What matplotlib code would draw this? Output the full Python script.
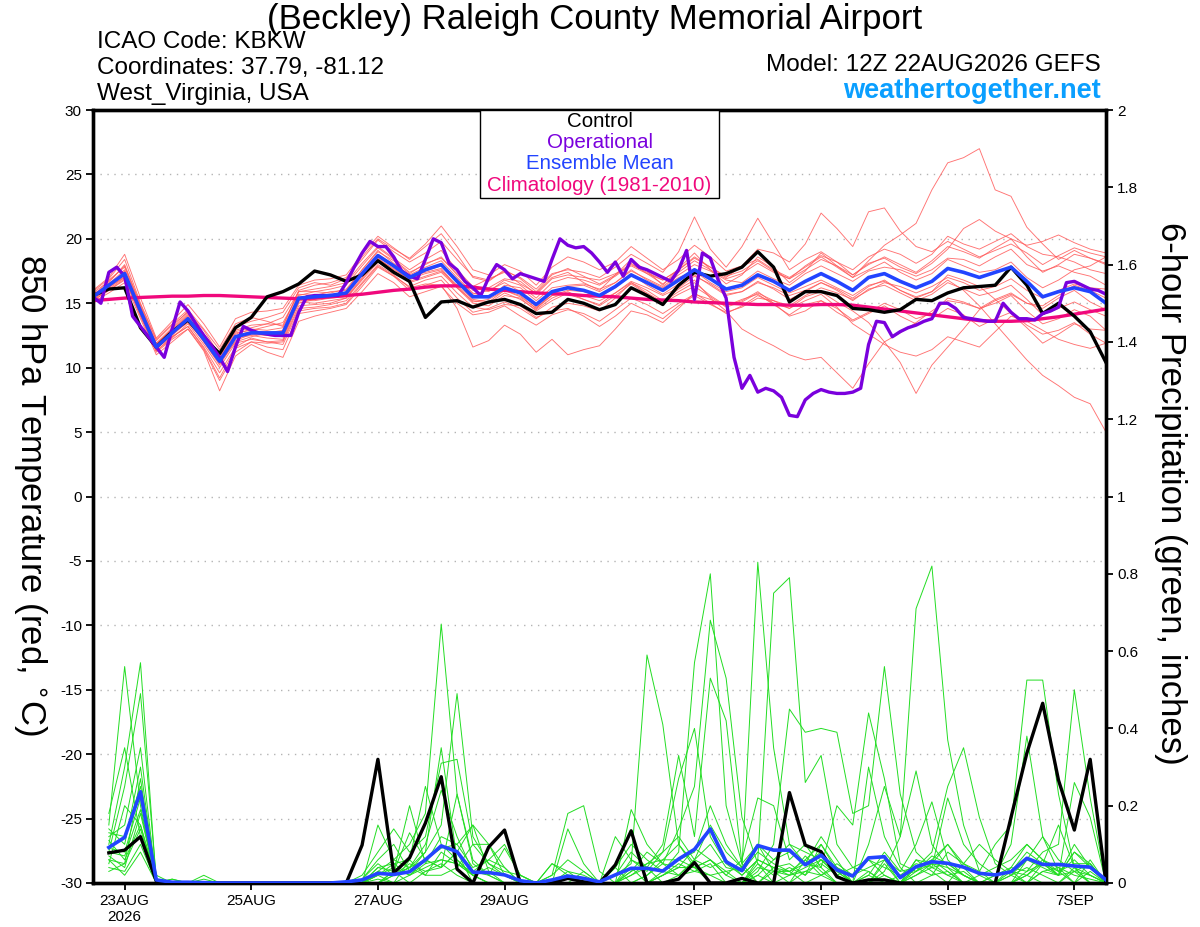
import numpy as np
import matplotlib
matplotlib.use('Agg')
import matplotlib.pyplot as plt
from matplotlib.patches import Rectangle
from matplotlib.ticker import FuncFormatter

plt.rcParams['font.family'] = ['Liberation Sans', 'DejaVu Sans']
plt.rcParams['axes.unicode_minus'] = False

# --- labels ---
tick_hours = [12, 60, 108, 156, 228, 276, 324, 372]
tick_labels = ['23AUG\n2026', '25AUG', '27AUG', '29AUG', '1SEP', '3SEP', '5SEP', '7SEP']

# --- 850 hPa temperature (deg C), 6-hourly from 12Z 22AUG ---
control_t = [15.6, 16.1, 16.2, 13.1, 11.6, 12.8, 13.7, 12.3, 11.1, 13.1,
             13.9, 15.5, 15.9, 16.5, 17.5, 17.2, 16.7, 17.2, 18.3, 17.4,
             16.7, 13.9, 15.1, 15.2, 14.7, 15.1, 15.3, 14.9, 14.2, 14.3,
             15.3, 15.0, 14.5, 14.9, 16.2, 15.6, 14.9, 16.4, 17.4, 17.1,
             17.3, 17.8, 19.0, 17.8, 15.1, 15.9, 15.9, 15.6, 14.6, 14.5,
             14.3, 14.5, 15.3, 15.2, 15.8, 16.2, 16.3, 16.4, 17.8, 16.4,
             14.2, 15.0, 14.0, 12.8, 10.4]

mean_t = [15.5, 16.4, 17.3, 14.4, 11.6, 12.7, 13.8, 12.2, 10.5, 12.4,
          12.7, 12.7, 12.7, 15.4, 15.5, 15.6, 15.8, 17.3, 18.7, 17.9,
          17.0, 17.6, 18.0, 16.7, 15.5, 15.5, 16.2, 15.8, 14.9, 15.9,
          16.2, 16.0, 15.6, 16.3, 17.2, 16.6, 16.0, 16.8, 17.6, 16.9,
          16.1, 16.4, 17.2, 16.7, 16.0, 16.7, 17.3, 16.7, 16.0, 17.0,
          17.3, 16.7, 16.2, 16.7, 17.7, 17.4, 17.0, 17.4, 17.8, 16.7,
          15.5, 15.9, 16.2, 15.9, 15.0]

clim_t = [15.2, 15.3, 15.4, 15.45, 15.5, 15.55, 15.55, 15.6, 15.6, 15.55,
          15.5, 15.45, 15.4, 15.35, 15.4, 15.5, 15.6, 15.7, 15.85, 16.0,
          16.1, 16.25, 16.35, 16.35, 16.25, 16.1, 16.0, 15.9, 15.8, 15.75,
          15.7, 15.6, 15.55, 15.5, 15.4, 15.3, 15.25, 15.2, 15.1, 15.05,
          15.0, 14.95, 14.9, 14.9, 14.85, 14.85, 14.9, 14.9, 14.85, 14.7,
          14.55, 14.4, 14.25, 14.1, 13.95, 13.8, 13.65, 13.6, 13.6, 13.65,
          13.8, 13.95, 14.15, 14.35, 14.55]

# operational run, 3-hourly
oper_t = [15.5, 15.0, 17.4, 17.8, 17.1, 14.0, 13.2, 12.4, 11.6, 10.8,
          13.0, 15.1, 14.4, 13.4, 12.5, 11.7, 10.8, 9.7, 11.6, 13.2,
          12.9, 12.7, 12.6, 12.5, 12.5, 12.5, 14.3, 15.5, 15.6, 15.6,
          15.6, 15.6, 16.6, 17.8, 18.9, 19.8, 19.4, 19.4, 18.6, 17.5,
          17.1, 16.9, 18.4, 20.0, 19.7, 18.1, 17.6, 16.7, 16.2, 15.6,
          17.0, 18.0, 17.6, 16.9, 17.3, 17.1, 16.9, 16.7, 18.4, 20.0,
          19.5, 19.3, 19.4, 18.9, 18.2, 17.4, 18.2, 17.1, 18.4, 17.8,
          17.6, 17.3, 17.0, 16.7, 17.6, 19.1, 15.3, 18.9, 18.5, 16.8,
          15.4, 10.8, 8.4, 9.4, 8.1, 8.4, 8.2, 7.7, 6.3, 6.2,
          7.5, 8.0, 8.3, 8.1, 8.0, 8.0, 8.1, 8.4, 11.8, 13.6,
          13.5, 12.4, 12.8, 13.1, 13.3, 13.6, 13.8, 15.0, 15.0, 14.6,
          13.9, 13.8, 13.7, 13.6, 13.6, 15.0, 14.3, 13.8, 13.8, 13.7,
          14.2, 14.4, 14.7, 16.6, 16.7, 16.4, 16.1, 16.0, 15.7]

# ensemble members
t01 = [15.8, 16.7, 17.9, 14.8, 11.9, 13.1, 14.4, 12.6, 10.9, 12.8,
       13.1, 13.4, 13.9, 15.9, 16.1, 16.3, 16.6, 18.1, 19.4, 18.5,
       17.6, 18.4, 19.1, 17.6, 16.3, 16.9, 17.4, 16.5, 15.8, 17.0,
       17.4, 16.6, 16.0, 17.2, 18.4, 17.5, 16.4, 17.7, 18.9, 17.6,
       16.5, 17.2, 18.6, 17.8, 16.6, 17.5, 18.9, 17.9, 17.0, 18.3,
       19.5, 20.3, 21.2, 23.8, 25.9, 26.3, 27.0, 23.8, 23.3, 20.9,
       19.6, 18.4, 19.1, 18.5, 18.1]
t02 = [15.2, 16.0, 16.9, 14.0, 11.3, 12.3, 13.4, 11.8, 10.0, 11.9,
       12.2, 12.0, 12.1, 14.8, 14.9, 15.0, 15.4, 16.8, 18.2, 17.4,
       16.6, 17.0, 17.4, 16.2, 15.0, 14.8, 15.6, 15.4, 14.4, 15.2,
       15.8, 15.6, 15.2, 15.8, 16.7, 16.2, 15.6, 16.2, 17.1, 16.5,
       15.7, 15.9, 16.6, 16.2, 15.6, 16.0, 16.6, 16.1, 15.4, 16.3,
       16.8, 16.0, 15.5, 15.9, 16.8, 16.0, 14.8, 13.4, 12.0, 10.6,
       9.4, 8.6, 7.7, 7.2, 5.0]
t03 = [15.6, 16.3, 17.0, 14.2, 11.5, 12.4, 13.2, 11.6, 9.6, 11.6,
       12.3, 12.0, 11.8, 14.4, 14.6, 14.7, 15.0, 16.5, 17.9, 17.1,
       16.0, 16.4, 16.8, 15.4, 14.3, 14.6, 15.1, 14.6, 13.8, 14.7,
       15.0, 14.8, 14.4, 15.4, 16.6, 15.8, 15.1, 15.9, 16.6, 15.6,
       14.8, 15.2, 15.9, 15.0, 14.6, 15.5, 15.9, 15.1, 14.4, 13.5,
       12.0, 10.4, 8.0, 10.2, 11.6, 13.0, 14.5, 15.2, 15.7, 15.0,
       14.6, 15.4, 16.0, 15.1, 14.5]
t04 = [15.9, 16.9, 18.4, 15.0, 12.2, 13.4, 14.5, 13.0, 11.4, 13.4,
       13.9, 13.6, 13.2, 16.0, 16.4, 16.6, 17.0, 18.4, 19.9, 19.0,
       18.2, 18.9, 19.8, 18.4, 17.1, 16.8, 17.5, 17.0, 16.1, 17.3,
       17.6, 17.4, 17.0, 17.8, 18.8, 18.1, 17.4, 19.0, 21.7, 19.2,
       17.8, 19.4, 21.6, 19.6, 17.6, 18.4, 19.0, 18.2, 17.2, 18.0,
       18.6, 18.0, 17.4, 18.3, 19.4, 19.0, 18.5, 19.3, 20.0, 18.6,
       17.4, 18.0, 18.8, 18.5, 18.0]
t05 = [15.3, 16.1, 17.0, 14.0, 11.2, 12.2, 13.0, 11.4, 9.0, 11.2,
       12.0, 11.9, 12.0, 14.6, 14.7, 14.9, 15.2, 16.6, 18.0, 17.2,
       16.2, 16.5, 16.4, 14.6, 11.6, 12.1, 13.3, 12.6, 11.2, 12.2,
       11.0, 11.4, 11.7, 13.0, 14.4, 14.1, 13.5, 14.6, 15.8, 15.0,
       14.2, 14.8, 15.6, 15.0, 14.0, 14.4, 15.2, 14.6, 13.7, 14.3,
       15.0, 14.5, 13.8, 14.2, 15.4, 15.1, 14.6, 15.0, 15.6, 14.4,
       13.4, 13.8, 14.5, 14.0, 12.9]
t06 = [15.4, 16.5, 17.6, 14.6, 11.9, 12.9, 14.1, 12.5, 10.7, 12.6,
       13.0, 12.9, 13.1, 15.6, 15.9, 15.8, 16.1, 17.6, 19.0, 18.3,
       17.3, 18.1, 18.5, 17.3, 16.2, 15.9, 16.8, 16.4, 15.4, 16.6,
       17.0, 16.8, 16.4, 17.1, 18.0, 17.4, 16.8, 17.6, 18.6, 17.8,
       17.0, 17.9, 19.2, 18.9, 18.2, 19.6, 22.0, 20.8, 19.4, 22.1,
       22.4, 20.6, 19.4, 19.0, 19.8, 19.2, 18.6, 19.1, 19.6, 18.9,
       18.0, 18.7, 19.3, 18.9, 18.6]
t07 = [15.7, 16.4, 17.2, 14.5, 11.7, 12.8, 13.9, 12.0, 10.2, 12.1,
       12.6, 12.5, 12.4, 15.0, 15.3, 15.5, 15.6, 17.2, 18.5, 17.6,
       16.9, 17.3, 17.6, 16.2, 15.2, 15.0, 15.8, 15.3, 14.5, 15.4,
       15.9, 15.3, 14.9, 15.8, 16.6, 16.0, 15.2, 16.1, 16.8, 15.4,
       14.4, 13.0, 12.3, 11.7, 11.0, 10.6, 10.8, 9.6, 8.4, 10.3,
       12.0, 12.7, 13.5, 14.4, 15.2, 15.0, 14.6, 15.3, 15.8, 15.0,
       14.8, 15.6, 16.4, 16.0, 15.4]
t08 = [15.5, 16.3, 17.5, 14.6, 11.8, 12.9, 14.0, 12.4, 10.8, 12.7,
       12.9, 13.2, 13.5, 15.7, 15.6, 15.9, 16.0, 17.6, 19.1, 18.1,
       17.2, 17.8, 18.3, 17.0, 15.8, 15.4, 16.4, 16.2, 15.2, 16.2,
       16.4, 16.5, 16.1, 16.6, 17.5, 16.9, 16.3, 17.2, 18.0, 17.5,
       16.8, 16.6, 17.5, 16.9, 16.4, 17.3, 17.9, 17.3, 16.7, 17.5,
       17.8, 17.6, 17.1, 17.6, 18.5, 18.4, 17.9, 18.6, 19.2, 18.0,
       17.5, 17.9, 17.4, 17.1, 16.4]
t09 = [15.1, 15.8, 16.6, 13.8, 11.0, 12.0, 13.0, 11.3, 8.2, 10.9,
       11.8, 11.2, 10.8, 13.6, 14.0, 14.3, 14.6, 15.9, 17.3, 16.6,
       15.5, 15.9, 16.3, 15.0, 14.1, 14.3, 14.8, 14.0, 13.3, 14.1,
       14.5, 14.2, 13.6, 14.5, 15.4, 14.9, 14.2, 15.0, 15.7, 15.3,
       14.8, 15.3, 15.7, 14.9, 14.1, 14.9, 15.2, 14.3, 13.6, 14.2,
       14.8, 14.0, 13.4, 13.8, 14.6, 14.1, 13.2, 13.8, 14.3, 13.3,
       12.6, 12.9, 13.5, 12.6, 11.9]
t10 = [16.0, 17.0, 18.8, 15.4, 12.3, 13.6, 14.9, 13.4, 11.6, 13.8,
       14.3, 14.4, 14.6, 16.4, 16.8, 16.9, 17.2, 18.8, 20.2, 19.3,
       18.4, 19.4, 20.4, 18.8, 17.0, 16.7, 17.6, 16.9, 15.9, 17.2,
       17.7, 17.1, 16.5, 17.2, 18.1, 17.3, 16.5, 17.4, 18.3, 17.6,
       16.9, 17.3, 18.1, 17.4, 16.9, 17.6, 18.4, 17.9, 17.2, 18.1,
       18.5, 17.8, 17.3, 18.1, 19.2, 20.8, 21.5, 20.6, 20.0, 19.5,
       19.8, 20.3, 19.7, 19.2, 18.9]
t11 = [15.6, 16.2, 17.1, 14.3, 11.5, 12.6, 13.5, 12.1, 10.4, 12.0,
       12.4, 12.7, 12.9, 15.2, 15.2, 15.4, 15.5, 17.0, 18.4, 17.7,
       16.8, 17.5, 17.9, 16.9, 15.7, 16.0, 16.6, 15.9, 14.7, 15.6,
       16.0, 15.9, 15.5, 16.2, 17.3, 16.4, 15.7, 16.5, 17.2, 16.4,
       15.6, 15.9, 16.7, 16.1, 15.3, 15.9, 16.6, 16.0, 15.2, 16.1,
       16.4, 15.8, 15.2, 15.7, 16.6, 16.1, 15.6, 15.9, 16.4, 15.3,
       14.1, 14.6, 15.1, 14.5, 14.0]
t12 = [15.4, 16.6, 18.0, 14.9, 12.1, 13.3, 14.3, 12.9, 11.0, 13.2,
       13.6, 13.9, 14.3, 16.2, 16.6, 16.4, 16.9, 18.6, 20.0, 19.2,
       18.5, 19.6, 21.0, 19.4, 17.6, 17.2, 18.0, 17.5, 16.4, 17.8,
       18.6, 18.2, 17.6, 18.2, 19.4, 18.5, 17.6, 18.4, 19.5, 18.6,
       17.5, 17.9, 18.4, 17.6, 17.0, 17.8, 18.6, 17.8, 17.0, 17.6,
       18.2, 17.4, 16.8, 17.3, 18.4, 17.9, 17.4, 17.6, 18.2, 17.0,
       16.2, 16.8, 17.6, 17.9, 18.6]
t13 = [15.3, 16.2, 17.4, 14.4, 11.6, 12.5, 13.6, 12.0, 10.3, 12.3,
       12.5, 12.3, 12.2, 15.1, 15.0, 15.2, 15.4, 16.9, 18.4, 17.5,
       16.7, 17.1, 17.5, 16.4, 15.3, 15.1, 16.0, 15.6, 14.6, 15.8,
       16.3, 16.4, 15.9, 16.6, 17.6, 16.8, 16.2, 17.0, 17.5, 16.6,
       15.9, 16.2, 17.0, 16.4, 15.8, 16.3, 16.8, 16.2, 15.6, 16.4,
       16.7, 16.0, 15.4, 15.9, 17.2, 16.8, 16.3, 15.3, 14.2, 13.1,
       11.9, 12.6, 13.4, 13.0, 12.9]
t14 = [15.7, 16.5, 17.2, 14.2, 11.4, 12.8, 13.7, 12.2, 10.6, 12.5,
       12.8, 12.6, 12.4, 15.3, 15.4, 15.6, 15.7, 17.4, 18.8, 18.0,
       17.1, 17.4, 17.7, 16.3, 15.1, 15.3, 16.0, 15.5, 14.6, 15.6,
       15.7, 15.3, 14.8, 15.6, 16.5, 15.7, 15.0, 15.7, 16.3, 15.5,
       14.7, 15.1, 15.8, 15.2, 14.6, 15.2, 15.7, 14.7, 13.4, 12.6,
       11.8, 11.2, 10.9, 11.4, 12.4, 12.0, 11.6, 12.8, 14.0, 13.6,
       12.9, 12.2, 11.8, 11.5, 11.9]
t15 = [15.5, 16.8, 17.8, 14.7, 11.8, 13.0, 14.2, 12.6, 10.9, 12.9,
       13.3, 13.4, 13.3, 15.9, 15.9, 16.1, 16.4, 17.9, 19.3, 18.4,
       17.4, 18.0, 18.6, 17.2, 16.0, 16.2, 16.9, 16.7, 15.7, 16.9,
       17.2, 17.0, 16.8, 17.3, 17.9, 17.3, 16.8, 17.6, 18.5, 17.8,
       17.1, 17.5, 18.3, 17.5, 16.9, 17.9, 18.7, 18.2, 17.6, 18.6,
       19.2, 18.8, 18.1, 18.8, 20.2, 19.6, 19.2, 19.8, 20.4, 19.4,
       18.8, 18.6, 18.2, 17.6, 17.3]
t16 = [15.2, 16.0, 16.8, 14.1, 11.3, 12.4, 13.2, 11.5, 9.2, 11.5,
       12.0, 11.6, 11.4, 14.2, 14.4, 14.6, 14.9, 16.3, 17.8, 17.1,
       16.3, 16.8, 17.1, 15.8, 14.7, 14.5, 14.9, 14.8, 13.9, 14.4,
       14.6, 14.0, 13.2, 14.0, 15.0, 14.4, 13.8, 14.8, 15.6, 14.9,
       14.3, 14.7, 15.4, 15.2, 14.8, 15.6, 16.2, 15.8, 15.3, 16.0,
       16.6, 16.3, 15.8, 16.3, 17.0, 16.6, 16.0, 16.3, 16.9, 16.0,
       15.4, 16.0, 16.5, 16.2, 16.1]

# --- 6-hour precipitation (inches), from 18Z 22AUG ---
control_p = [0.078, 0.085, 0.12, 0.005, 0, 0, 0, 0,
             0, 0, 0, 0, 0, 0, 0, 0,
             0.098, 0.32, 0.026, 0.065, 0.155, 0.275, 0.036, 0,
             0.093, 0.137, 0, 0, 0, 0.012, 0.003, 0,
             0.047, 0.135, 0, 0, 0.01, 0.053, 0, 0,
             0.012, 0, 0, 0.234, 0.098, 0.081, 0.016, 0,
             0.008, 0.008, 0, 0, 0, 0, 0, 0,
             0, 0.17, 0.336, 0.465, 0.266, 0.137, 0.32, 0]

mean_p = [0.092, 0.118, 0.236, 0.008, 0.002, 0.002, 0.001, 0,
          0, 0, 0, 0, 0, 0, 0, 0.003,
          0.008, 0.025, 0.022, 0.029, 0.06, 0.096, 0.081, 0.028,
          0.027, 0.021, 0.006, 0, 0.008, 0.018, 0.012, 0.003,
          0.021, 0.038, 0.038, 0.031, 0.062, 0.087, 0.14, 0.055,
          0.032, 0.097, 0.085, 0.085, 0.047, 0.072, 0.034, 0.018,
          0.065, 0.068, 0.014, 0.042, 0.055, 0.051, 0.041, 0.025,
          0.021, 0.029, 0.064, 0.048, 0.048, 0.044, 0.041, 0.008]

p01 = [0.15, 0.56, 0.20, 0, 0.01, 0, 0, 0,
       0, 0, 0, 0, 0, 0, 0, 0,
       0, 0.03, 0.06, 0.10, 0.18, 0.67, 0.23, 0.05,
       0.02, 0, 0, 0, 0.02, 0.06, 0.03, 0,
       0, 0.02, 0.05, 0.08, 0.12, 0.06, 0.15, 0.08,
       0.04, 0.83, 0.35, 0.10, 0.05, 0.12, 0.06, 0,
       0.02, 0.08, 0.03, 0.10, 0.21, 0.06, 0.02, 0,
       0, 0.04, 0.10, 0.06, 0.02, 0.08, 0.05, 0]
p02 = [0.10, 0.30, 0.57, 0, 0, 0, 0, 0,
       0, 0, 0, 0, 0, 0, 0, 0,
       0.01, 0.05, 0.02, 0.04, 0.08, 0.15, 0.49, 0.12,
       0.05, 0.02, 0, 0, 0, 0.02, 0, 0,
       0.04, 0.10, 0.06, 0.03, 0.08, 0.57, 0.80, 0.20,
       0.05, 0.10, 0.03, 0, 0.06, 0.10, 0.04, 0,
       0, 0.05, 0, 0.02, 0.05, 0.10, 0.04, 0,
       0, 0, 0.06, 0.12, 0.03, 0, 0.06, 0]
p03 = [0.18, 0.35, 0.12, 0, 0, 0, 0, 0,
       0, 0, 0, 0, 0, 0, 0, 0,
       0, 0.02, 0.05, 0.06, 0.25, 0.10, 0.06, 0.02,
       0, 0, 0, 0, 0, 0.14, 0.05, 0,
       0.02, 0.05, 0.59, 0.41, 0.10, 0.04, 0.06, 0.03,
       0, 0.06, 0.75, 0.79, 0.26, 0.33, 0.10, 0.04,
       0.03, 0, 0, 0.06, 0.03, 0, 0.05, 0.02,
       0, 0.03, 0, 0.05, 0.15, 0.04, 0, 0]
p04 = [0.08, 0.25, 0.49, 0.01, 0, 0, 0.02, 0,
       0, 0, 0, 0, 0, 0, 0, 0,
       0, 0, 0.03, 0.13, 0.06, 0.04, 0.08, 0.15,
       0.10, 0.04, 0, 0, 0, 0, 0, 0,
       0, 0.03, 0.08, 0.05, 0.14, 0.25, 0.68, 0.53,
       0.17, 0.05, 0, 0.02, 0.04, 0.06, 0.02, 0,
       0.10, 0.25, 0.12, 0.71, 0.82, 0.37, 0.15, 0.03,
       0, 0, 0.02, 0.05, 0.03, 0.06, 0.02, 0]
p05 = [0.12, 0.15, 0.35, 0, 0.01, 0, 0.01, 0,
       0, 0, 0, 0, 0, 0, 0, 0,
       0.02, 0.08, 0.14, 0.08, 0.12, 0.31, 0.32, 0.10,
       0.05, 0.03, 0.02, 0, 0, 0, 0.03, 0,
       0, 0, 0.02, 0.06, 0.10, 0.05, 0, 0,
       0, 0.03, 0.10, 0.45, 0.39, 0.40, 0.39, 0.18,
       0.20, 0.56, 0.23, 0.08, 0.04, 0.05, 0.02, 0,
       0.02, 0.03, 0.08, 0.05, 0.02, 0.10, 0.04, 0]
p06 = [0.06, 0.05, 0.27, 0, 0, 0, 0, 0,
       0, 0, 0, 0, 0, 0, 0, 0,
       0, 0.04, 0.03, 0.20, 0.05, 0.06, 0.05, 0.03,
       0.02, 0, 0, 0, 0.05, 0.03, 0, 0,
       0.02, 0.08, 0.04, 0.10, 0.33, 0.12, 0.53, 0.42,
       0.05, 0, 0.04, 0.03, 0.05, 0.08, 0.03, 0,
       0, 0.02, 0, 0.03, 0.06, 0.10, 0.05, 0.03,
       0.10, 0.15, 0.525, 0.525, 0.23, 0.04, 0.02, 0]
p07 = [0.05, 0.20, 0.15, 0.01, 0, 0, 0, 0,
       0, 0, 0, 0, 0, 0, 0, 0,
       0, 0.02, 0.04, 0.02, 0.06, 0.09, 0.10, 0.15,
       0.03, 0, 0, 0, 0, 0, 0, 0,
       0, 0, 0, 0.02, 0.04, 0.09, 0.06, 0.02,
       0.06, 0.22, 0.20, 0.06, 0.10, 0.04, 0.20, 0.15,
       0.44, 0.27, 0.05, 0.03, 0.07, 0.05, 0.02, 0,
       0, 0, 0.03, 0.08, 0.10, 0.50, 0.22, 0]
p08 = [0.09, 0.08, 0.22, 0, 0, 0, 0, 0,
       0, 0, 0, 0, 0, 0, 0, 0,
       0.01, 0.06, 0.10, 0.03, 0.08, 0.35, 0.06, 0.02,
       0, 0, 0, 0, 0.02, 0.18, 0.20, 0.03,
       0, 0.19, 0.10, 0.05, 0.02, 0.06, 0.10, 0.04,
       0.03, 0.08, 0.05, 0.03, 0, 0.02, 0.05, 0.02,
       0.04, 0.06, 0.03, 0.04, 0.08, 0.25, 0.35, 0.17,
       0.05, 0.02, 0, 0.03, 0.04, 0.02, 0.01, 0]
p09 = [0.14, 0.10, 0.30, 0, 0, 0, 0, 0,
       0, 0, 0, 0, 0, 0, 0, 0,
       0, 0.15, 0.06, 0.04, 0.10, 0.24, 0.12, 0.03,
       0.06, 0.10, 0.02, 0, 0, 0, 0, 0,
       0.12, 0.06, 0.03, 0.08, 0.27, 0.40, 0.12, 0.05,
       0.02, 0.06, 0.04, 0.02, 0.03, 0.05, 0.02, 0,
       0, 0.03, 0.12, 0.29, 0.10, 0.04, 0.02, 0,
       0, 0, 0, 0.03, 0.02, 0.26, 0.17, 0]
p10 = [0.07, 0.04, 0.18, 0, 0, 0, 0, 0,
       0, 0, 0, 0, 0, 0, 0, 0,
       0, 0, 0.02, 0.05, 0.03, 0.04, 0.23, 0.06,
       0.02, 0.09, 0.02, 0, 0.05, 0.02, 0, 0,
       0, 0.02, 0.04, 0.03, 0.06, 0.08, 0.20, 0.10,
       0.04, 0.10, 0.06, 0.10, 0.08, 0.06, 0.04, 0.02,
       0.06, 0.04, 0.02, 0.05, 0.04, 0.22, 0.10, 0.05,
       0.02, 0.10, 0.38, 0.12, 0.06, 0.03, 0.05, 0]
p11 = [0.04, 0.03, 0.10, 0, 0, 0, 0, 0,
       0, 0, 0, 0, 0, 0, 0, 0,
       0, 0.01, 0, 0.02, 0.04, 0.06, 0.05, 0.02,
       0, 0, 0, 0, 0, 0, 0, 0,
       0, 0, 0, 0.02, 0.04, 0.04, 0.02, 0,
       0, 0.02, 0.06, 0.08, 0.05, 0.04, 0, 0,
       0.30, 0.12, 0.04, 0, 0.02, 0.03, 0, 0,
       0, 0.02, 0.04, 0.02, 0, 0.04, 0, 0]
p12 = [0.11, 0.06, 0.15, 0, 0, 0, 0, 0,
       0, 0, 0, 0, 0, 0, 0, 0,
       0, 0.03, 0.02, 0.04, 0.02, 0.02, 0.04, 0.10,
       0.10, 0.02, 0, 0, 0, 0.03, 0.02, 0,
       0, 0.03, 0.05, 0.06, 0.06, 0.04, 0, 0,
       0, 0.04, 0.03, 0.02, 0.07, 0.03, 0, 0,
       0.02, 0, 0, 0.04, 0.06, 0.03, 0, 0.02,
       0.04, 0.06, 0.10, 0.06, 0.03, 0.05, 0.05, 0]
p13 = [0.06, 0.02, 0.08, 0, 0, 0, 0, 0,
       0, 0, 0, 0, 0, 0, 0, 0,
       0, 0, 0.03, 0, 0.03, 0.05, 0.02, 0,
       0, 0, 0, 0, 0, 0, 0, 0,
       0.04, 0, 0, 0.02, 0.05, 0.03, 0.05, 0,
       0, 0.02, 0, 0, 0.03, 0.02, 0, 0,
       0, 0, 0, 0.02, 0.04, 0.02, 0, 0,
       0, 0, 0.02, 0, 0, 0.03, 0, 0]
p14 = [0.13, 0.12, 0.25, 0.02, 0, 0, 0, 0,
       0, 0, 0, 0, 0, 0, 0, 0,
       0, 0.04, 0.05, 0.02, 0.05, 0.12, 0.10, 0.04,
       0.06, 0.04, 0, 0, 0, 0.02, 0, 0,
       0, 0.06, 0.04, 0, 0.02, 0.06, 0.04, 0.06,
       0.02, 0.06, 0.04, 0.05, 0.02, 0.06, 0.02, 0.04,
       0.06, 0.02, 0, 0.06, 0.05, 0.02, 0.03, 0,
       0, 0.02, 0.06, 0.04, 0.02, 0.08, 0.04, 0]
p15 = [0.08, 0.07, 0.19, 0, 0, 0, 0, 0,
       0, 0, 0, 0, 0, 0, 0, 0,
       0, 0.02, 0, 0.06, 0.02, 0.08, 0.05, 0.02,
       0.04, 0.02, 0, 0, 0, 0, 0, 0,
       0, 0, 0.02, 0.05, 0.04, 0.04, 0.06, 0.02,
       0, 0.05, 0.02, 0.04, 0.02, 0.10, 0.03, 0,
       0, 0.06, 0, 0.04, 0.02, 0.08, 0.05, 0.10,
       0.06, 0.03, 0.02, 0.06, 0.04, 0, 0.03, 0]
p16 = [0.03, 0.05, 0.14, 0, 0, 0, 0, 0,
       0, 0, 0, 0, 0, 0, 0, 0,
       0, 0, 0.02, 0.04, 0.06, 0.04, 0.08, 0,
       0, 0, 0, 0, 0, 0, 0, 0,
       0, 0.04, 0, 0.03, 0.02, 0.03, 0.02, 0.03,
       0.04, 0, 0.03, 0.03, 0.06, 0.02, 0.04, 0,
       0.03, 0, 0.02, 0.03, 0.05, 0.04, 0, 0,
       0.02, 0.04, 0.03, 0.05, 0.02, 0.03, 0.02, 0]

temp_members = [t01, t02, t03, t04, t05, t06, t07, t08,
                t09, t10, t11, t12, t13, t14, t15, t16]
precip_members = [p01, p02, p03, p04, p05, p06, p07, p08,
                  p09, p10, p11, p12, p13, p14, p15, p16]

# forecast hours since 12Z 22AUG
hours_t = np.arange(0, 385, 6)
hours_op = np.arange(0, 385, 3)
hours_p = np.arange(6, 385, 6)

fig = plt.figure(figsize=(12, 9.27), dpi=100)
ax = fig.add_axes([93 / 1200, 44 / 927, 1013 / 1200, 773 / 927])
ax2 = ax.twinx()

# temperature, left axis
for m in temp_members:
    ax.plot(hours_t, m, color='#ff5a5a', lw=0.65, alpha=0.85, zorder=2)
ax.plot(hours_t, clim_t, color='#f0087c', lw=2.4, zorder=3)
ax.plot(hours_t, control_t, color='black', lw=2.4, zorder=4)
ax.plot(hours_op, oper_t, color='#7a00dd', lw=2.4, zorder=5)
ax.plot(hours_t, mean_t, color='#2244ff', lw=2.6, zorder=6)

# precipitation, right axis
for m in precip_members:
    ax2.plot(hours_p, m, color='#22dd22', lw=0.7, zorder=2)
ax2.plot(hours_p, control_p, color='black', lw=2.4, zorder=4)
ax2.plot(hours_p, mean_p, color='#2244ff', lw=2.6, zorder=5)

ax.set_xlim(0, 384)
ax.set_ylim(-30, 30)
ax2.set_ylim(0, 2)

ax.set_yticks(np.arange(-30, 31, 5))
ax.set_xticks(tick_hours)
ax.set_xticklabels(tick_labels)
ax2.set_yticks(np.arange(0, 2.01, 0.2))
ax2.yaxis.set_major_formatter(FuncFormatter(lambda v, p: '%g' % round(v, 1)))

for y in range(-25, 30, 5):
    ax.axhline(y, color='#b4b4b4', lw=1.0, ls=(0, (1, 4)), zorder=1)

ax.tick_params(axis='both', labelsize=11, length=5, width=1.3, direction='out', pad=3,
               right=False)
ax2.tick_params(axis='y', labelsize=11, length=5, width=1.3, direction='out', pad=3)
for a in (ax, ax2):
    for s in a.spines.values():
        s.set_linewidth(2.4)

# legend box
ax2.add_patch(Rectangle((0.382, 0.886), 0.236, 0.114, transform=ax2.transAxes,
                        facecolor='white', edgecolor='black', lw=1.0, zorder=10))
legend_items = [('Control', 'black', 0.9845),
                ('Operational', '#7a00dd', 0.9575),
                ('Ensemble Mean', '#2244ff', 0.9305),
                ('Climatology (1981-2010)', '#f0087c', 0.9025)]
for txt, col, yy in legend_items:
    ax2.text(0.5, yy, txt, color=col, fontsize=14.8, ha='center', va='center',
             transform=ax2.transAxes, zorder=11)

# header texts
fig.text(0.4954, 0.9795, '(Beckley) Raleigh County Memorial Airport',
         fontsize=25, ha='center', va='center')
fig.text(0.0808, 0.9548, 'ICAO Code: KBKW', fontsize=17.5, va='center')
fig.text(0.0808, 0.9268, 'Coordinates: 37.79, -81.12', fontsize=17.5, va='center')
fig.text(0.0808, 0.8988, 'West_Virginia, USA', fontsize=17.5, va='center')
fig.text(0.9175, 0.930, 'Model: 12Z 22AUG2026 GEFS', fontsize=17.5, ha='right', va='center')
fig.text(0.9175, 0.902, 'weathertogether.net', fontsize=19.5, ha='right', va='center',
         color='#0a9fff', fontweight='bold')

fig.text(30 / 1200, 0.466, r'850 hPa Temperature (red, $^{\circ}$C)', fontsize=25,
         rotation=270, ha='center', va='center')
fig.text(1170 / 1200, 0.468, '6-hour Precipitation (green, inches)', fontsize=25,
         rotation=270, ha='center', va='center')

fig.savefig('out.png', dpi=100)
